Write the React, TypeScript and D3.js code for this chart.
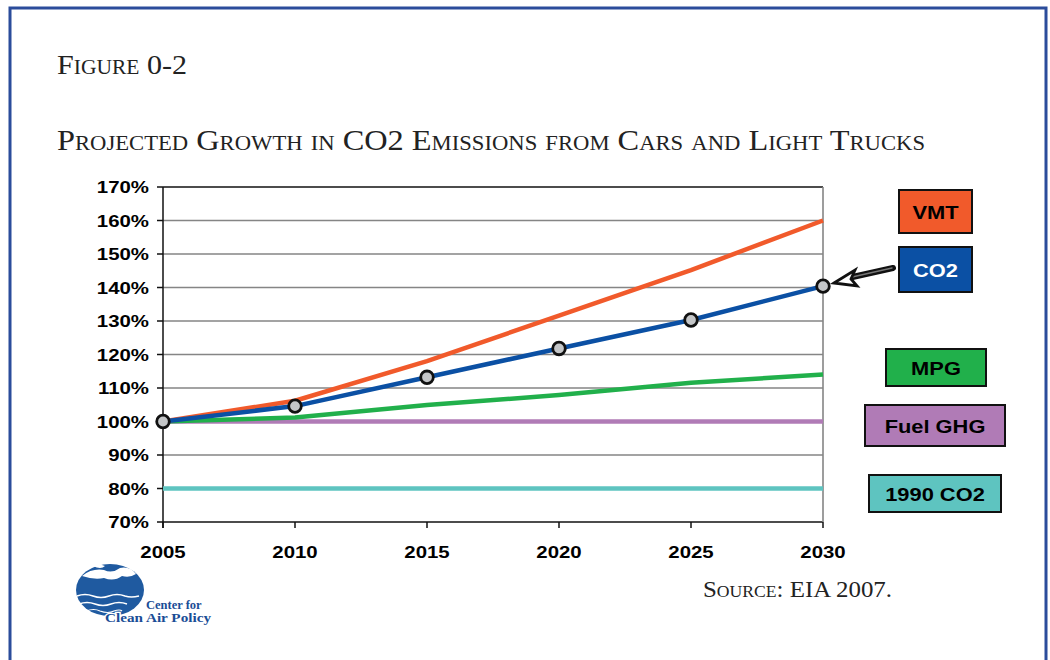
import React from "react";
import * as d3 from "d3";

const years = [2005, 2010, 2015, 2020, 2025, 2030];
const vmt = [100, 106.2, 118, 131.6, 145.2, 160];
const co2 = [100, 104.6, 113.2, 121.8, 130.3, 140.4];
const mpg = [100, 101.2, 104.9, 107.9, 111.6, 114];
const fuelGhg = [100, 100, 100, 100, 100, 100];
const co2of1990 = [80, 80, 80, 80, 80, 80];
const yTicks = [70, 80, 90, 100, 110, 120, 130, 140, 150, 160, 170];

const seriesList = [
  { name: "1990 CO2", values: co2of1990, color: "#5ec4c0" },
  { name: "Fuel GHG", values: fuelGhg, color: "#b07bb6" },
  { name: "MPG", values: mpg, color: "#21b04b" },
  { name: "VMT", values: vmt, color: "#f15a2b" },
  { name: "CO2", values: co2, color: "#0b50a4" },
];

const legendBoxes = [
  { name: "VMT", x: 899, y: 190, w: 73, h: 43, fill: "#f15a2b", text: "#000" },
  { name: "CO2", x: 899, y: 247, w: 73, h: 45, fill: "#0b50a4", text: "#fff" },
  { name: "MPG", x: 886, y: 349, w: 100, h: 37, fill: "#21b04b", text: "#000" },
  { name: "Fuel GHG", x: 865, y: 405, w: 140, h: 41, fill: "#b07bb6", text: "#000" },
  { name: "1990 CO2", x: 869, y: 475, w: 132, h: 37, fill: "#5ec4c0", text: "#000" },
];

export default function App() {
  const left = 163, right = 823, top = 187, bottom = 522;
  const x = d3.scaleLinear().domain([2005, 2030]).range([left, right]);
  const y = d3.scaleLinear().domain([70, 170]).range([bottom, top]);
  const line = d3
    .line<number>()
    .x((_, i) => x(years[i]))
    .y((v) => y(v));

  const serif = "'Liberation Serif', 'DejaVu Serif', serif";
  const sans = "'Liberation Sans', Arial, sans-serif";

  return (
    <svg
      width={1050}
      height={660}
      style={{ position: "absolute", left: 0, top: 0, background: "#fff" }}
    >
      <rect x={10} y={8} width={1036} height={720} fill="#fff" stroke="#2b4c9b" strokeWidth={3} />

      <text x={57} y={74} fontFamily={serif} fontSize={28} fill="#222" style={{ fontVariant: "small-caps" }} textLength={130} lengthAdjust="spacingAndGlyphs">
        Figure 0-2
      </text>
      <text x={57} y={150} fontFamily={serif} fontSize={30} fill="#222" style={{ fontVariant: "small-caps" }} textLength={868} lengthAdjust="spacingAndGlyphs">
        Projected Growth in CO2 Emissions from Cars and Light Trucks
      </text>

      {/* gridlines */}
      {yTicks.map((t) => (
        <line key={"g" + t} x1={left} x2={right} y1={y(t)} y2={y(t)} stroke={t === 170 || t === 70 ? "#111" : "#858585"} strokeWidth={t === 170 || t === 70 ? 1.5 : 1.6} />
      ))}
      <line x1={right} x2={right} y1={top} y2={bottom} stroke="#858585" strokeWidth={1.6} />
      <line x1={left} x2={left} y1={top} y2={bottom + 6} stroke="#111" strokeWidth={1.5} />
      {yTicks.map((t) => (
        <g key={"yt" + t}>
          <line x1={left - 6} x2={left} y1={y(t)} y2={y(t)} stroke="#111" strokeWidth={1.5} />
          <g transform={`translate(${left - 14},${y(t) + 6}) scale(1.2,1)`}>
            <text textAnchor="end" fontFamily={sans} fontWeight="bold" fontSize={17} fill="#000">
              {t}%
            </text>
          </g>
        </g>
      ))}
      {years.map((yr) => (
        <g key={"xt" + yr}>
          <line x1={x(yr)} x2={x(yr)} y1={bottom} y2={bottom + 6} stroke="#111" strokeWidth={1.5} />
          <g transform={`translate(${x(yr)},${bottom + 36}) scale(1.2,1)`}>
            <text textAnchor="middle" fontFamily={sans} fontWeight="bold" fontSize={17} fill="#000">
              {yr}
            </text>
          </g>
        </g>
      ))}

      {/* series */}
      {seriesList.map((s) => (
        <path key={s.name} d={line(s.values) || ""} fill="none" stroke={s.color} strokeWidth={4.5} strokeLinejoin="round" />
      ))}
      {co2.map((v, i) => (
        <circle key={"m" + i} cx={x(years[i])} cy={y(v)} r={6.3} fill="#c4c6c8" stroke="#111" strokeWidth={2.8} />
      ))}

      {/* legend boxes */}
      {legendBoxes.map((b) => (
        <g key={"lb" + b.name}>
          <rect x={b.x} y={b.y} width={b.w} height={b.h} fill={b.fill} stroke="#111" strokeWidth={2} />
          <g transform={`translate(${b.x + b.w / 2},${b.y + b.h / 2 + 7}) scale(1.15,1)`}>
            <text textAnchor="middle" fontFamily={sans} fontWeight="bold" fontSize={19} fill={b.text}>
              {b.name}
            </text>
          </g>
        </g>
      ))}

      {/* arrow */}
      <line x1={893} y1={268} x2={848} y2={278} stroke="#111" strokeWidth={6} strokeLinecap="round" />
      <line x1={892} y1={268} x2={850} y2={277.5} stroke="#777" strokeWidth={1.5} strokeLinecap="round" />
      <path d="M834,283 L855,270 L851,279 L857,286 Z" fill="#fff" stroke="#111" strokeWidth={2.8} strokeLinejoin="miter" />

      {/* logo */}
      <g>
        <ellipse cx={110} cy={590} rx={34} ry={26} fill="#1f5aa0" />
        <path d="M82,576 q10,-8 22,-6 q8,4 16,-2 q10,-2 16,6 q-6,4 -14,2 q-8,6 -18,2 q-10,2 -22,-2 z" fill="#fff" />
        <path d="M93,566 q6,-3 12,0 q-4,4 -12,0 z M120,569 q6,-2 10,2 q-5,3 -10,-2 z" fill="#fff" />
        <path d="M77,596 q8,-3 16,0 q8,3 16,0 q8,-3 16,0 q6,2 14,0" fill="none" stroke="#fff" strokeWidth={1.6} />
        <path d="M79,604 q8,-3 16,0 q8,3 16,0 q8,-3 16,0" fill="none" stroke="#fff" strokeWidth={1.4} />
        <path d="M86,611 q8,-3 14,0 q8,3 14,0 q6,-2 8,0" fill="none" stroke="#fff" strokeWidth={1.2} />
        <text x={146} y={609} fontFamily={serif} fontWeight="bold" fontSize={12.5} fill="#1a4d96" stroke="#fff" strokeWidth={2.5} style={{ paintOrder: "stroke" }}>Center for</text>
        <text x={105} y={622} fontFamily={serif} fontWeight="bold" fontSize={12.5} fill="#1a4d96" stroke="#fff" strokeWidth={2.5} style={{ paintOrder: "stroke" }} textLength={106} lengthAdjust="spacingAndGlyphs">Clean Air Policy</text>
      </g>

      <text x={703} y={597} fontFamily={serif} fontSize={24} fill="#222" style={{ fontVariant: "small-caps" }} textLength={189} lengthAdjust="spacingAndGlyphs">
        Source: EIA 2007.
      </text>
    </svg>
  );
}
